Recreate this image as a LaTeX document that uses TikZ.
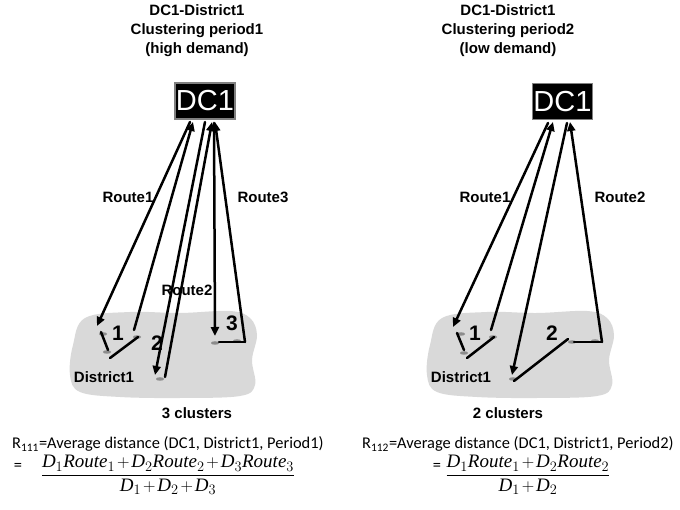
\documentclass[tikz,border=0pt]{standalone}
\usepackage{fontspec}
\usepackage{amsmath}
\setmainfont{Liberation Sans}
\newfontfamily\calfont{Carlito}
\newfontfamily\tmsfont{Liberation Serif}
\usetikzlibrary{arrows.meta,shapes.geometric}
\newcommand\mi[1]{\text{\tmsfont\itshape #1}}
\begin{document}
\begin{tikzpicture}[x=1pt,y=-1pt,
  lbl/.style={font=\fontsize{15}{17}\selectfont\bfseries, inner sep=0pt},
  numlbl/.style={font=\fontsize{21}{23}\selectfont\bfseries, inner sep=0pt},
  ttl/.style={font=\fontsize{15}{19}\selectfont\bfseries, align=center, inner sep=0pt},
  dcbox/.style={fill=black, draw=black!50, line width=1.6pt, text=white,
    minimum width=60pt, minimum height=36pt, inner sep=0pt,
    font=\fontsize{29}{30}\selectfont},
  route/.style={line width=2.5pt, line cap=round},
  rarrow/.style={route, -{Triangle[length=9pt,width=8pt]}},
  dot/.style={ellipse, fill=black!45, minimum width=8pt, minimum height=3.5pt, inner sep=0pt},
  eq/.style={font=\calfont\fontsize{16.4}{18}\selectfont, inner sep=0pt},
  frac/.style={font=\fontsize{19}{21}\selectfont, inner sep=0pt}
]
\useasboundingbox (0,0) rectangle (680,510);
\fill[white] (0,0) rectangle (680,510);

% blobs
\fill[black!15] plot[smooth cycle, tension=0.6] coordinates {(85,318) (130,312) (180,313) (230,311) (250,318) (257,335) (252,360) (255,385) (240,396) (180,398) (120,397) (80,392) (70,375) (73,345)};
\fill[black!15] plot[smooth cycle, tension=0.6] coordinates {(442,318) (487,312) (537,313) (587,311) (607,318) (614,335) (609,360) (612,385) (597,396) (537,398) (477,397) (437,392) (427,375) (430,345)};

% titles
\node[ttl] (tL) at (197,31) {DC1-District1\\Clustering period1\\(high demand)};
\node[ttl] (tR) at (508,31) {DC1-District1\\Clustering period2\\(low demand)};

% DC boxes
\node[dcbox] (dcL) at (205,101) {DC1};
\node[dcbox] (dcR) at (562.5,101.5) {DC1};

% ---------- left panel ----------
\node[dot] (dL1) at (103,334) {};
\node[dot] (dL2) at (107,352) {};
\node[dot] (dL3) at (137,337) {};
\node[dot] (dL4) at (160,379) {};
\node[dot] (dL5) at (215,343) {};
\node[dot] (dL6) at (237,341) {};

\coordinate (aL1) at (190,122);
\coordinate (bL1) at (97,326);
\coordinate (cL1) at (101,332);
\coordinate (eL1) at (108,350);
\coordinate (fL1) at (110,358);
\coordinate (gL1) at (138,337);
\coordinate (hL1) at (134,330);
\coordinate (iL1) at (193,122);
\draw[rarrow] (aL1) -- (bL1);
\draw[route] (cL1) -- (eL1);
\draw[route] (fL1) -- (gL1);
\draw[rarrow] (hL1) -- (iL1);

\coordinate (aL2) at (205,122);
\coordinate (bL2) at (155,375);
\coordinate (hL2) at (165,377);
\coordinate (iL2) at (212,122);
\draw[rarrow] (aL2) -- (bL2);
\draw[rarrow] (hL2) -- (iL2);

\coordinate (aL3) at (214,123);
\coordinate (bL3) at (215,336);
\coordinate (cL3) at (219,342);
\coordinate (eL3) at (245,342);
\coordinate (iL3) at (215,122);
\draw[rarrow] (aL3) -- (bL3);
\draw[route] (cL3) -- (eL3);
\draw[rarrow] (eL3) -- (iL3);

\node[lbl] (r1L) at (128,197) {Route1};
\node[lbl] (r3L) at (263,197) {Route3};
\node[lbl] (r2L) at (187,290) {Route2};
\node[lbl] (dsL) at (104,377) {District1};
\node[numlbl] (n1L) at (118,333) {1};
\node[numlbl] (n2L) at (157,343) {2};
\node[numlbl] (n3L) at (232,323) {3};
\node[lbl] (clL) at (197,413) {3 clusters};

% ---------- right panel ----------
\node[dot] (dR1) at (461,334) {};
\node[dot] (dR2) at (464,353) {};
\node[dot] (dR3) at (493,337) {};
\node[dot] (dR4) at (513,379) {};
\node[dot] (dR5) at (572,342) {};
\node[dot] (dR6) at (595,341) {};

\coordinate (aR1) at (548,123);
\coordinate (bR1) at (453,327);
\coordinate (cR1) at (457,333);
\coordinate (eR1) at (464,350);
\coordinate (fR1) at (467,358);
\coordinate (gR1) at (494,337);
\coordinate (hR1) at (491,330);
\coordinate (iR1) at (553,122);
\draw[rarrow] (aR1) -- (bR1);
\draw[route] (cR1) -- (eR1);
\draw[route] (fR1) -- (gR1);
\draw[rarrow] (hR1) -- (iR1);

\coordinate (aR2) at (567,123);
\coordinate (bR2) at (512,375);
\coordinate (cR2) at (514,381);
\coordinate (eR2) at (568,339);
\coordinate (fR2) at (574,342);
\coordinate (gR2) at (602,342);
\coordinate (iR2) at (570,122);
\draw[rarrow] (aR2) -- (bR2);
\draw[route] (cR2) -- (eR2);
\draw[route] (fR2) -- (gR2);
\draw[rarrow] (gR2) -- (iR2);

\node[lbl] (r1R) at (485,197) {Route1};
\node[lbl] (r2R) at (620,197) {Route2};
\node[lbl] (dsR) at (461,377) {District1};
\node[numlbl] (n1R) at (475,333) {1};
\node[numlbl] (n2R) at (552,333) {2};
\node[lbl] (clR) at (508,413) {2 clusters};

% ---------- formulas ----------
\node[eq, anchor=west] (fL) at (12,444) {R\textsubscript{111}=Average distance (DC1, District1, Period1)};
\node[eq] (eqL) at (18,467) {=};
\node[frac] (frL) at (168,475) {\medmuskip=2mu plus 1mu minus 1mu $\dfrac{\mi{D}_1\mi{Route}_1+\mi{D}_2\mi{Route}_2+\mi{D}_3\mi{Route}_3}{\mi{D}_1+\mi{D}_2+\mi{D}_3}$};

\node[eq, anchor=west] (fR) at (362,444) {R\textsubscript{112}=Average distance (DC1, District1, Period2)};
\node[eq] (eqR) at (437,467) {=};
\node[frac] (frR) at (528,475) {\medmuskip=2mu plus 1mu minus 1mu $\dfrac{\mi{D}_1\mi{Route}_1+\mi{D}_2\mi{Route}_2}{\mi{D}_1+\mi{D}_2}$};
\end{tikzpicture}
\end{document}
